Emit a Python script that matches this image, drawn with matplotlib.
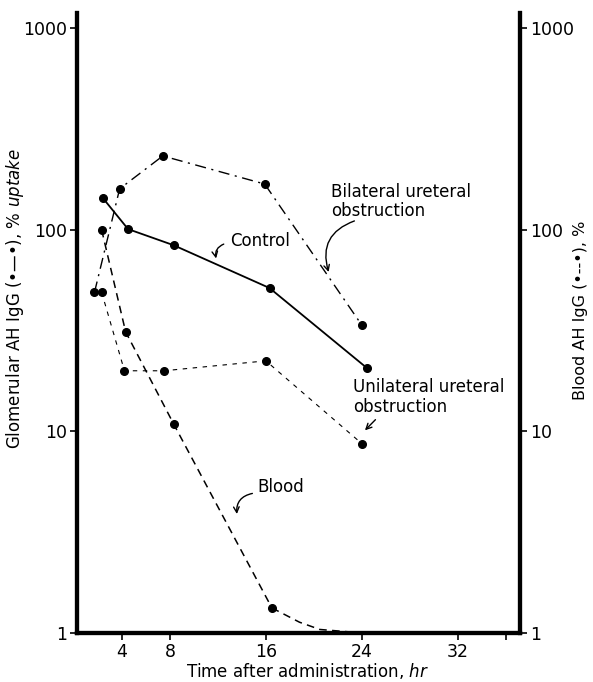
import numpy as np
import matplotlib
matplotlib.use("Agg")
import matplotlib.pyplot as plt

plt.rcParams['font.family'] = ['DejaVu Sans']
plt.rcParams['mathtext.fontset'] = 'custom'
plt.rcParams['mathtext.it'] = 'DejaVu Sans:italic'
plt.rcParams['mathtext.rm'] = 'DejaVu Sans'

# data (hours, % uptake)
control_x = [2.4, 4.5, 8.3, 16.3, 24.4]
control_y = [144, 101, 84, 51.5, 20.7]

bilateral_x = [1.7, 3.8, 7.4, 15.9, 24.0]
bilateral_y = [49, 160, 233, 169, 33.7]

unilateral_x = [2.3, 4.2, 7.5, 16.0, 24.0]
unilateral_y = [49, 20, 20, 22.4, 8.7]

blood_x = [2.3, 4.3, 8.3, 16.5]
blood_y = [100, 31.2, 10.9, 1.33]
blood_tail_x = [16.5, 18.8, 20.5, 24.0]
blood_tail_y = [1.33, 1.13, 1.04, 1.0]

xticks = [4, 8, 16, 24, 32, 36]
xticklabels = ['4', '8', '16', '24', '32', '']
yticks = [1, 10, 100, 1000]
yticklabels = ['1', '10', '100', '1000']

fig = plt.figure(figsize=(5.93, 6.82), dpi=100)
ax = fig.add_axes([0.130, 0.072, 0.747, 0.909])

mk = dict(marker='o', markersize=5.5, color='black')
ax.plot(control_x, control_y, linestyle='-', linewidth=1.3, **mk)
ax.plot(bilateral_x, bilateral_y, linestyle=(0, (8, 4, 1.5, 4)), linewidth=1.0, **mk)
ax.plot(unilateral_x, unilateral_y, linestyle=(0, (4, 5)), linewidth=0.8, **mk)
ax.plot(blood_x, blood_y, linestyle=(0, (5, 3.5)), linewidth=1.1, **mk)
ax.plot(blood_tail_x, blood_tail_y, linestyle=(0, (5, 3.5)), linewidth=1.1, color='black')

ax.set_yscale('log')
ax.set_xlim(0.25, 37.2)
ax.set_ylim(1, 1194)
ax.set_xticks(xticks)
ax.set_xticklabels(xticklabels)
ax.set_yticks(yticks)
ax.set_yticklabels(yticklabels)
ax.minorticks_off()

for side in ['left', 'right', 'bottom']:
    ax.spines[side].set_linewidth(3)
ax.spines['top'].set_visible(False)
ax.tick_params(axis='both', labelsize=12.5, width=1.2, length=5, direction='out', pad=2)

ax2 = ax.twinx()
ax2.set_yscale('log')
ax2.set_ylim(1, 1194)
ax2.set_yticks(yticks)
ax2.set_yticklabels(yticklabels)
ax2.minorticks_off()
for side in ['left', 'right', 'bottom']:
    ax2.spines[side].set_linewidth(3)
ax2.spines['top'].set_visible(False)
ax2.tick_params(axis='y', labelsize=12.5, width=1.2, length=5, direction='out', pad=2)

ax.set_xlabel('Time after administration, $\\it{hr}$', fontsize=12)
ax.xaxis.set_label_coords(0.52, -0.046)
ax.set_ylabel('Glomerular AH IgG (\u2022\u2014\u2022), $\\it{\\%\\ uptake}$', fontsize=12)
ax.yaxis.set_label_coords(-0.115, 0.54)
ax2.set_ylabel('Blood AH IgG (\u2022--\u2022), %', fontsize=11.5)
ax2.yaxis.set_label_coords(1.12, 0.52)

arrow = dict(arrowstyle='->', color='black', linewidth=1.0, connectionstyle='arc3,rad=0.5')
ax.text(13.0, 88, 'Control', fontsize=12, va='center', ha='left')
ax.annotate('', xy=(11.9, 70), xytext=(12.7, 86), arrowprops=arrow)

ax.text(21.4, 138, 'Bilateral ureteral\nobstruction', fontsize=12, va='center', ha='left',
        linespacing=1.1)
ax.annotate('', xy=(21.3, 60), xytext=(23.6, 112), arrowprops=arrow)

ax.text(23.3, 14.8, 'Unilateral ureteral\nobstruction', fontsize=12, va='center', ha='left',
        linespacing=1.1)
ax.annotate('', xy=(24.1, 9.9), xytext=(25.3, 11.7),
            arrowprops=dict(arrowstyle='->', color='black', linewidth=1.0))

ax.text(15.3, 5.3, 'Blood', fontsize=12, va='center', ha='left')
ax.annotate('', xy=(13.6, 3.77), xytext=(15.1, 4.95), arrowprops=arrow)

fig.savefig('out.png', dpi=100)
